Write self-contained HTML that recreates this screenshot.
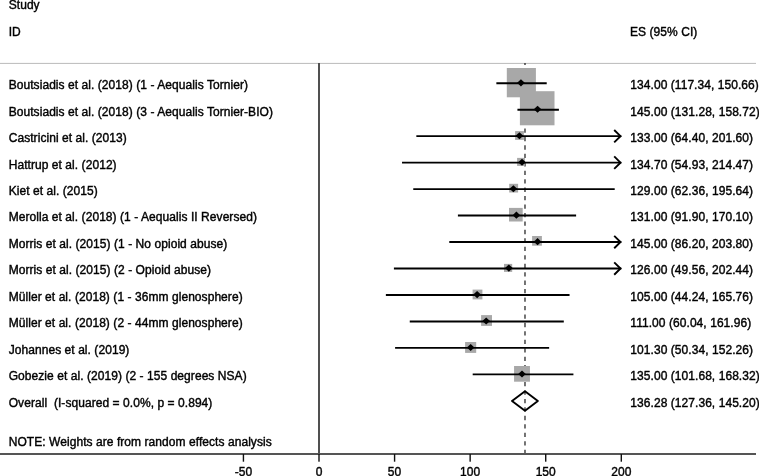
<!DOCTYPE html><html><head><meta charset="utf-8"><style>html,body{margin:0;padding:0;background:#fff;overflow:hidden;}svg{display:block;filter:grayscale(1);}text{font-family:"Liberation Sans",sans-serif;font-size:12px;fill:#000;white-space:pre;stroke:#000;stroke-width:0.4px;letter-spacing:0.06px;}</style></head><body>
<svg width="759" height="476" viewBox="0 0 759 476">
<text x="8.7" y="9">Study</text>
<text x="8.7" y="35.8">ID</text>
<text x="630.0" y="35.9">ES (95% CI)</text>
<rect x="0" y="62.9" width="756" height="1" fill="#bbb"/>
<line x1="524.99" y1="63" x2="524.99" y2="453" stroke="#222" stroke-width="1.25" stroke-dasharray="4.3 4.153" stroke-dashoffset="2.2"/>
<rect x="506.8" y="68.0" width="29.1" height="29.3" fill="#a8a8a8"/>
<rect x="519.9" y="91.2" width="34.6" height="34.1" fill="#a8a8a8"/>
<rect x="515.1" y="131.1" width="8.8" height="8.8" fill="#a8a8a8"/>
<rect x="517.1" y="157.9" width="7.8" height="8.0" fill="#a8a8a8"/>
<rect x="509.2" y="183.8" width="8.9" height="8.7" fill="#a8a8a8"/>
<rect x="509.0" y="207.9" width="13.7" height="13.6" fill="#a8a8a8"/>
<rect x="532.1" y="236.0" width="9.8" height="9.7" fill="#a8a8a8"/>
<rect x="504.0" y="263.9" width="8.2" height="8.0" fill="#a8a8a8"/>
<rect x="472.6" y="289.6" width="9.8" height="9.8" fill="#a8a8a8"/>
<rect x="481.1" y="315.1" width="10.9" height="10.8" fill="#a8a8a8"/>
<rect x="465.1" y="342.0" width="11.1" height="10.9" fill="#a8a8a8"/>
<rect x="514.05" y="366.0" width="15.9" height="15.7" fill="#a8a8a8"/>
<rect x="318" y="63" width="2" height="391" fill="#505050"/>
<line x1="496.36" y1="83.23" x2="546.72" y2="83.23" stroke="#000" stroke-width="1.9"/>
<polygon points="517.14,82.83 520.94,79.28 524.74,82.83 520.94,86.38" fill="#000"/>
<text x="8.7" y="89.10">Boutsiadis et al. (2018) (1 - Aequalis Tornier)</text>
<text x="630.3" y="89.10">134.00 (117.34, 150.66)</text>
<line x1="517.43" y1="109.70" x2="558.91" y2="109.70" stroke="#000" stroke-width="1.9"/>
<polygon points="533.77,109.30 537.57,105.75 541.37,109.30 537.57,112.85" fill="#000"/>
<text x="8.7" y="115.57">Boutsiadis et al. (2018) (3 - Aequalis Tornier-BIO)</text>
<text x="630.3" y="115.57">145.00 (131.28, 158.72)</text>
<line x1="416.34" y1="136.17" x2="621.30" y2="136.17" stroke="#000" stroke-width="1.9"/>
<polyline points="614.20,129.97 620.50,136.17 614.20,142.37" fill="none" stroke="#000" stroke-width="1.9"/>
<polygon points="515.63,135.77 519.43,132.22 523.23,135.77 519.43,139.32" fill="#000"/>
<text x="8.7" y="142.04">Castricini et al. (2013)</text>
<text x="630.3" y="142.04">133.00 (64.40, 201.60)</text>
<line x1="402.03" y1="162.64" x2="621.30" y2="162.64" stroke="#000" stroke-width="1.9"/>
<polyline points="614.20,156.44 620.50,162.64 614.20,168.84" fill="none" stroke="#000" stroke-width="1.9"/>
<polygon points="518.20,162.24 522.00,158.69 525.80,162.24 522.00,165.79" fill="#000"/>
<text x="8.7" y="168.51">Hattrup et al. (2012)</text>
<text x="630.3" y="168.51">134.70 (54.93, 214.47)</text>
<line x1="413.26" y1="189.11" x2="614.71" y2="189.11" stroke="#000" stroke-width="1.9"/>
<polygon points="509.58,188.71 513.38,185.16 517.18,188.71 513.38,192.26" fill="#000"/>
<text x="8.7" y="194.98">Kiet et al. (2015)</text>
<text x="630.3" y="194.98">129.00 (62.36, 195.64)</text>
<line x1="457.91" y1="215.57" x2="576.11" y2="215.57" stroke="#000" stroke-width="1.9"/>
<polygon points="512.61,215.17 516.41,211.62 520.21,215.17 516.41,218.72" fill="#000"/>
<text x="8.7" y="221.45">Merolla et al. (2018) (1 - Aequalis II Reversed)</text>
<text x="630.3" y="221.45">131.00 (91.90, 170.10)</text>
<line x1="449.29" y1="242.04" x2="621.30" y2="242.04" stroke="#000" stroke-width="1.9"/>
<polyline points="614.20,235.84 620.50,242.04 614.20,248.24" fill="none" stroke="#000" stroke-width="1.9"/>
<polygon points="533.77,241.64 537.57,238.09 541.37,241.64 537.57,245.19" fill="#000"/>
<text x="8.7" y="247.92">Morris et al. (2015) (1 - No opioid abuse)</text>
<text x="630.3" y="247.92">145.00 (86.20, 203.80)</text>
<line x1="393.91" y1="268.51" x2="621.30" y2="268.51" stroke="#000" stroke-width="1.9"/>
<polyline points="614.20,262.31 620.50,268.51 614.20,274.71" fill="none" stroke="#000" stroke-width="1.9"/>
<polygon points="505.05,268.11 508.85,264.56 512.65,268.11 508.85,271.66" fill="#000"/>
<text x="8.7" y="274.39">Morris et al. (2015) (2 - Opioid abuse)</text>
<text x="630.3" y="274.39">126.00 (49.56, 202.44)</text>
<line x1="385.87" y1="294.98" x2="569.55" y2="294.98" stroke="#000" stroke-width="1.9"/>
<polygon points="473.31,294.58 477.11,291.03 480.91,294.58 477.11,298.13" fill="#000"/>
<text x="8.7" y="300.86">Müller et al. (2018) (1 - 36mm glenosphere)</text>
<text x="630.3" y="300.86">105.00 (44.24, 165.76)</text>
<line x1="409.75" y1="321.45" x2="563.80" y2="321.45" stroke="#000" stroke-width="1.9"/>
<polygon points="482.38,321.05 486.18,317.50 489.98,321.05 486.18,324.60" fill="#000"/>
<text x="8.7" y="327.33">Müller et al. (2018) (2 - 44mm glenosphere)</text>
<text x="630.3" y="327.33">111.00 (60.04, 161.96)</text>
<line x1="395.09" y1="347.92" x2="549.14" y2="347.92" stroke="#000" stroke-width="1.9"/>
<polygon points="466.85,347.52 470.65,343.97 474.45,347.52 470.65,351.07" fill="#000"/>
<text x="8.7" y="353.80">Johannes et al. (2019)</text>
<text x="630.3" y="353.80">101.30 (50.34, 152.26)</text>
<line x1="472.69" y1="374.39" x2="573.42" y2="374.39" stroke="#000" stroke-width="1.9"/>
<polygon points="518.20,373.99 522.00,370.44 525.80,373.99 522.00,377.54" fill="#000"/>
<text x="8.7" y="380.27">Gobezie et al. (2019) (2 - 155 degrees NSA)</text>
<text x="630.3" y="380.27">135.00 (101.68, 168.32)</text>
<polygon points="512.00,400.90 524.99,391.15 537.87,400.90 524.99,410.65" fill="none" stroke="#000" stroke-width="1.9" stroke-linejoin="round"/>
<text x="8.7" y="406.74">Overall  (I-squared = 0.0%, p = 0.894)</text>
<text x="630.3" y="406.74">136.28 (127.36, 145.20)</text>
<text x="8.7" y="446.3">NOTE: Weights are from random effects analysis</text>
<rect x="0" y="453" width="756" height="2" fill="#555"/>
<rect x="242.73" y="454" width="1.4" height="7.7" fill="#111"/>
<text x="243.43" y="476" text-anchor="middle">-50</text>
<rect x="318.30" y="454" width="1.4" height="7.7" fill="#111"/>
<text x="319.00" y="476" text-anchor="middle">0</text>
<rect x="393.88" y="454" width="1.4" height="7.7" fill="#111"/>
<text x="394.57" y="476" text-anchor="middle">50</text>
<rect x="469.45" y="454" width="1.4" height="7.7" fill="#111"/>
<text x="470.15" y="476" text-anchor="middle">100</text>
<rect x="545.02" y="454" width="1.4" height="7.7" fill="#111"/>
<text x="545.73" y="476" text-anchor="middle">150</text>
<rect x="620.60" y="454" width="1.4" height="7.7" fill="#111"/>
<text x="621.30" y="476" text-anchor="middle">200</text>
</svg></body></html>
